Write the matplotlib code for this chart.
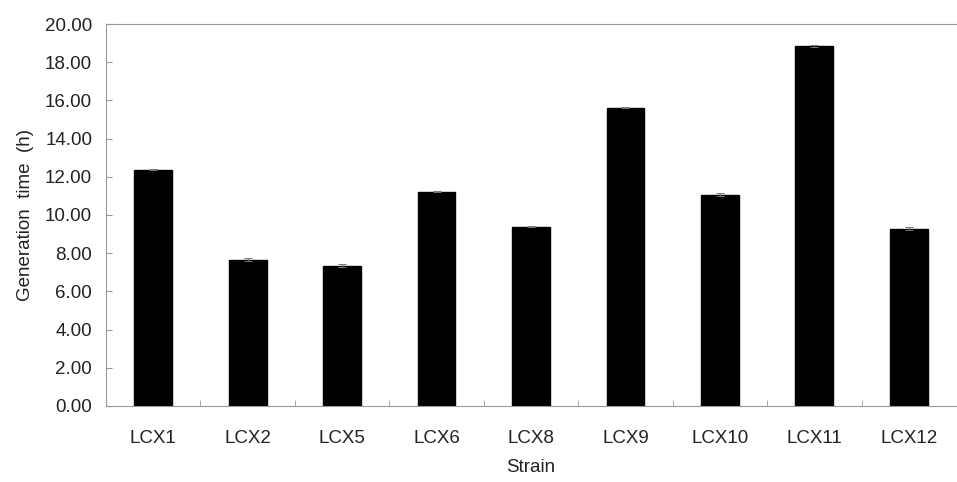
import numpy as np
import matplotlib
matplotlib.use("Agg")
import matplotlib.pyplot as plt

plt.rcParams['font.family'] = ['Liberation Sans', 'DejaVu Sans']

# data
strains = ["LCX1", "LCX2", "LCX5", "LCX6", "LCX8", "LCX9", "LCX10", "LCX11", "LCX12"]
gen_time = [12.38, 7.65, 7.35, 11.22, 9.38, 15.62, 11.05, 18.85, 9.28]
gen_err = [0.03, 0.08, 0.08, 0.03, 0.03, 0.03, 0.08, 0.03, 0.08]
yticks = np.arange(0, 20.01, 2)

fig = plt.figure(figsize=(9.57, 4.82), dpi=100)
ax = fig.add_axes([0.1108, 0.1577, 0.8882, 0.7925])

x = np.arange(len(strains))
ax.bar(x, gen_time, width=0.4, color="black", edgecolor="black",
       yerr=gen_err, error_kw=dict(ecolor="#777777", elinewidth=0.7, capsize=3, capthick=0.7))

ax.set_xlim(-0.5, len(strains) - 0.5)
ax.set_ylim(0, 20)
ax.set_yticks(yticks)
ax.set_yticklabels(["%.2f" % v for v in yticks])
ax.set_xticks(x)
ax.set_xticklabels(strains)
ax.set_xticks(np.arange(0.5, len(strains) - 0.5, 1), minor=True)

ax.tick_params(axis="x", which="major", length=0, pad=17, labelsize=13.5, colors="#222222")
ax.tick_params(axis="x", which="minor", direction="in", length=4, color="#999999")
ax.tick_params(axis="y", direction="in", length=4, color="#999999", labelsize=13.5,
               labelcolor="#222222", pad=10)

for s in ["left", "bottom", "top"]:
    ax.spines[s].set_color("#999999")
ax.spines["right"].set_visible(False)

ax.set_ylabel("Generation  time  (h)", fontsize=13.5, color="#222222", labelpad=8)
ax.set_xlabel("Strain", fontsize=13.5, color="#222222", labelpad=9)

fig.savefig("out.png", dpi=100)
